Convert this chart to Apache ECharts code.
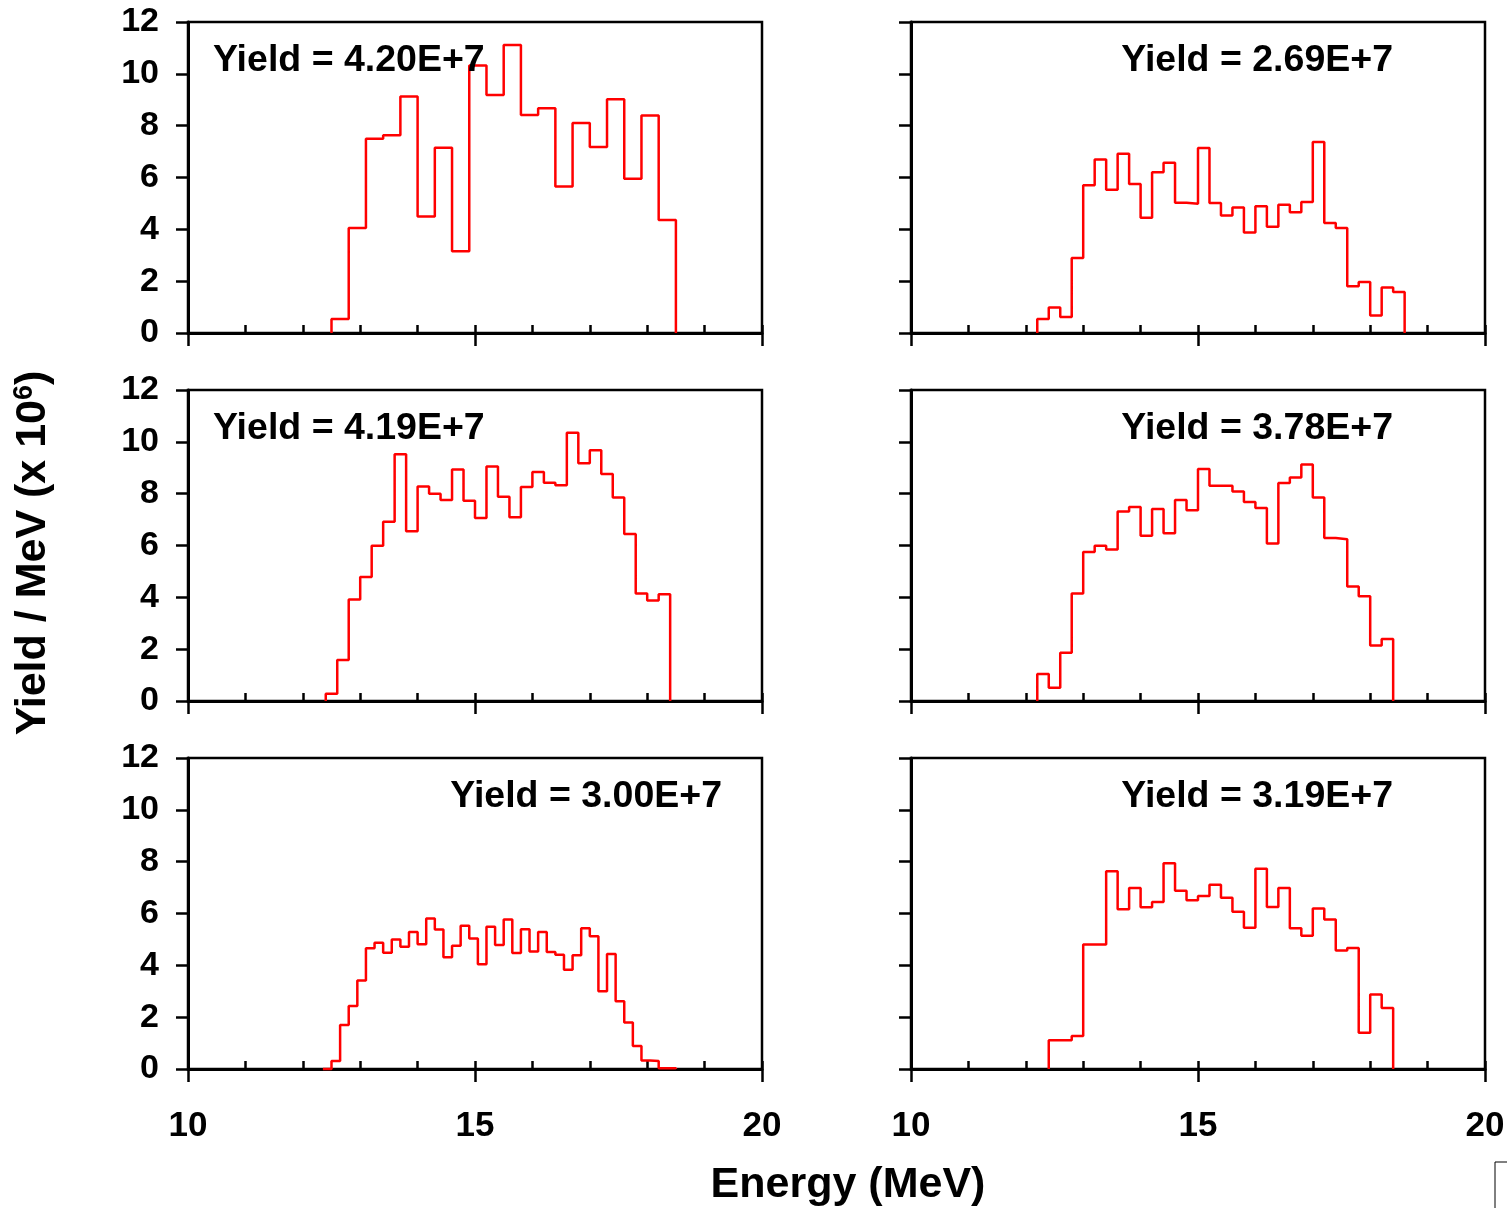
<!DOCTYPE html>
<html>
<head>
<meta charset="utf-8">
<title>Yield spectra</title>
<script src="https://cdn.jsdelivr.net/npm/echarts@6/dist/echarts.min.js"></script>
<style>
  html, body { margin: 0; padding: 0; background: #fff; }
  #chart { width: 1507px; height: 1208px; }
</style>
</head>
<body>
<div id="chart"></div>
<script>
// Energy axis and yield axis ticks
const energyTicks = [10, 15, 20];
const yieldTicks = [0, 2, 4, 6, 8, 10, 12];

// Histogram binning for each panel (MeV): first edge and bin width
const binStart = [12.5, 12.2, 12.4, 12.2, 12.35, 12.4];
const binWidth = [0.3, 0.2, 0.2, 0.2, 0.15, 0.2];

// Yield per MeV (x 10^6) in each bin
const spectrumA = [0.54, 4.05, 7.50, 7.63, 9.13, 4.50, 7.15, 3.15, 10.32, 9.18,
  11.11, 8.41, 8.67, 5.65, 8.10, 7.18, 9.02, 5.95, 8.39, 4.36];
const spectrumB = [0.54, 0.98, 0.62, 2.89, 5.70, 6.69, 5.53, 6.92, 5.75, 4.45,
  6.20, 6.57, 5.03, 4.99, 7.14, 5.02, 4.53, 4.84, 3.88, 4.89,
  4.10, 4.95, 4.66, 5.05, 7.37, 4.24, 4.05, 1.80, 1.97, 0.68, 1.76, 1.58];
const spectrumC = [0.28, 1.58, 3.92, 4.78, 5.99, 6.92, 9.52, 6.55, 8.28, 8.00,
  7.76, 8.93, 7.73, 7.06, 9.05, 7.88, 7.09, 8.26, 8.84, 8.42,
  8.32, 10.35, 9.17, 9.68, 8.76, 7.85, 6.44, 4.15, 3.88, 4.12];
const spectrumD = [1.04, 0.51, 1.86, 4.15, 5.75, 5.99, 5.85, 7.31, 7.49, 6.38,
  7.41, 6.47, 7.76, 7.36, 8.95, 8.31, 8.31, 8.08, 7.68, 7.45,
  6.08, 8.41, 8.62, 9.13, 7.85, 6.29, 6.24, 4.42, 4.04, 2.14, 2.39];
const spectrumE = [0.00, 0.31, 1.70, 2.43, 3.41, 4.66, 4.87, 4.49, 5.00, 4.72, 5.29,
  4.81, 5.81, 5.38, 4.31, 4.76, 5.53, 5.04, 4.04, 5.49, 4.78,
  5.77, 4.48, 5.39, 4.53, 5.29, 4.51, 4.41, 3.83, 4.39, 5.43,
  5.12, 3.00, 4.44, 2.61, 1.79, 0.89, 0.33, 0.31, 0.03, 0.03];
const spectrumF = [1.11, 1.11, 1.27, 4.80, 4.80, 7.63, 6.16, 6.98, 6.24, 6.44,
  7.94, 6.88, 6.51, 6.68, 7.11, 6.61, 6.07, 5.45, 7.73, 6.25,
  6.98, 5.43, 5.14, 6.19, 5.77, 4.57, 4.67, 1.40, 2.87, 2.35];

// Integrated yield printed in each panel
const yieldLabels = ['Yield = 4.20E+7', 'Yield = 2.69E+7', 'Yield = 4.19E+7',
  'Yield = 3.78E+7', 'Yield = 3.00E+7', 'Yield = 3.19E+7'];

const spectra = [spectrumA, spectrumB, spectrumC, spectrumD, spectrumE, spectrumF];

const FONT = "'Liberation Sans', Arial, Helvetica, sans-serif";

// Panel frames: two columns, three rows
const colLeft = [188, 911];
const rowTop = [22, 390, 758];
const plotW = 574, plotH = 311;

// Turn bin contents into an outline: rises at the first edge, drops at the last
function outline(start, width, vals) {
  const pts = [[start, 0]];
  vals.forEach((v, i) => pts.push([+(start + (i + 1) * width).toFixed(4), v]));
  pts.push([pts[pts.length - 1][0], 0]);
  return pts;
}

const grids = [], xAxes = [], yAxes = [], series = [], texts = [];

spectra.forEach((vals, i) => {
  const col = i % 2, row = Math.floor(i / 2);
  const isBottom = row === 2, isLeft = col === 0;
  grids.push({
    left: colLeft[col], top: rowTop[row], width: plotW, height: plotH,
    show: true, borderColor: '#000', borderWidth: 2.5, backgroundColor: 'transparent',
    containLabel: false, outerBoundsMode: 'none'
  });
  // major ticks (10, 15, 20) hanging below the axis, with labels on the bottom row
  xAxes.push({
    type: 'value', gridIndex: i, position: 'bottom',
    min: energyTicks[0], max: energyTicks[energyTicks.length - 1],
    interval: energyTicks[1] - energyTicks[0],
    axisLine: { show: true, onZero: false, lineStyle: { color: '#000', width: 3 } },
    axisTick: { show: true, inside: false, length: 13, lineStyle: { color: '#000', width: 2.5 } },
    axisLabel: {
      show: isBottom, color: '#000', fontSize: 35, fontWeight: 'bold',
      fontFamily: FONT, margin: 40
    },
    splitLine: { show: false }
  });
  // 1 MeV ticks pointing into the plot
  xAxes.push({
    type: 'value', gridIndex: i, position: 'bottom',
    min: energyTicks[0], max: energyTicks[energyTicks.length - 1], interval: 1,
    axisLine: { show: false, onZero: false },
    axisTick: { show: true, inside: true, length: 8, lineStyle: { color: '#000', width: 2.5 } },
    axisLabel: { show: false },
    splitLine: { show: false }
  });
  yAxes.push({
    type: 'value', gridIndex: i, position: 'left',
    min: yieldTicks[0], max: yieldTicks[yieldTicks.length - 1],
    interval: yieldTicks[1] - yieldTicks[0],
    axisLine: { show: true, onZero: false, lineStyle: { color: '#000', width: 3 } },
    axisTick: { show: true, inside: false, length: 12, lineStyle: { color: '#000', width: 2.5 } },
    axisLabel: {
      show: isLeft, color: '#000', fontSize: 34, fontWeight: 'bold',
      fontFamily: FONT, margin: 29
    },
    splitLine: { show: false }
  });
  series.push({
    type: 'line', xAxisIndex: 2 * i, yAxisIndex: i,
    step: 'start', symbol: 'none', clip: false,
    lineStyle: { color: '#ff0000', width: 2.5 },
    data: outline(binStart[i], binWidth[i], vals),
    z: 5
  });
  // yield annotation: left-aligned in the two upper left panels, right-aligned elsewhere
  const leftAligned = isLeft && row < 2;
  texts.push({
    type: 'text',
    x: leftAligned ? colLeft[col] + 25 : colLeft[col] + (isLeft ? 534 : 482),
    y: rowTop[row] + 39,
    z: 100,
    style: {
      text: yieldLabels[i], fill: '#000', fontSize: 37.5, fontWeight: 'bold', fontFamily: FONT,
      align: leftAligned ? 'left' : 'right', verticalAlign: 'middle'
    }
  });
});

// axis titles
texts.push({
  type: 'text', x: 848, y: 1185, z: 100,
  style: {
    text: 'Energy (MeV)', fill: '#000', fontSize: 43, fontWeight: 'bold', fontFamily: FONT,
    align: 'center', verticalAlign: 'middle'
  }
});
texts.push({
  type: 'text', x: 33, y: 553, rotation: Math.PI / 2, z: 100,
  style: {
    text: '{a|Yield / MeV (x 10}{s|6}{a|)}',
    align: 'center', verticalAlign: 'middle',
    rich: {
      a: { fill: '#000', fontSize: 43, fontWeight: 'bold', fontFamily: FONT, verticalAlign: 'bottom' },
      s: { fill: '#000', fontSize: 27, fontWeight: 'bold', fontFamily: FONT, verticalAlign: 'top' }
    }
  }
});
// frame corner at the lower right edge of the page
texts.push({
  type: 'rect', x: 1495, y: 1162, z: 100,
  shape: { width: 40, height: 60 },
  style: { fill: 'none', stroke: '#000', lineWidth: 1 }
});

const chart = echarts.init(document.getElementById('chart'), null, { renderer: 'canvas' });
chart.setOption({
  animation: false,
  backgroundColor: '#fff',
  grid: grids,
  xAxis: xAxes,
  yAxis: yAxes,
  series: series,
  graphic: texts
});
</script>
</body>
</html>
